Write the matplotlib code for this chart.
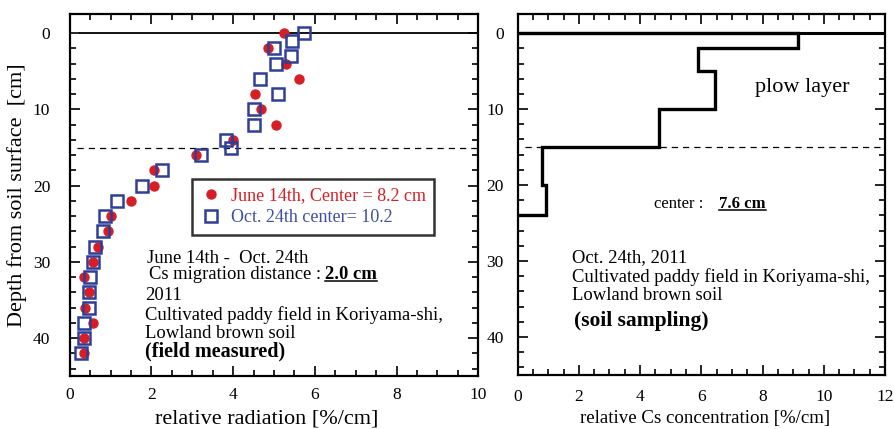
import numpy as np
import matplotlib
matplotlib.use("Agg")
import matplotlib.pyplot as plt
from matplotlib.lines import Line2D

plt.rcParams['font.family'] = ['Liberation Serif', 'DejaVu Serif']

# left panel: relative radiation vs depth
depth_june = [0, 2, 4, 6, 8, 10, 12, 14, 16, 18, 20, 22, 24, 26, 28, 30, 32, 34, 36, 38, 40, 42]
rad_june = [5.24, 4.85, 5.30, 5.61, 4.53, 4.69, 5.04, 3.99, 3.08, 2.06, 2.06, 1.50,
            1.02, 0.94, 0.68, 0.58, 0.36, 0.46, 0.38, 0.56, 0.36, 0.34]
depth_oct = [0, 1, 2, 3, 4, 6, 8, 10, 12, 14, 15, 16, 18, 20, 22, 24, 26, 28, 30, 32, 34, 36, 38, 40, 42]
rad_oct = [5.74, 5.45, 5.00, 5.42, 5.04, 4.65, 5.10, 4.52, 4.51, 3.83, 3.95, 3.22, 2.27,
           1.78, 1.16, 0.86, 0.82, 0.63, 0.56, 0.49, 0.47, 0.47, 0.35, 0.36, 0.27]

# right panel: soil sampling layers
layer_edges = [0, 2, 5, 10, 15, 20, 24]
cs_conc = [9.17, 5.89, 6.46, 4.61, 0.79, 0.94]

red = '#d81e25'
blue = '#2f3f98'

fig = plt.figure(figsize=(8.94, 4.29), dpi=100)
ax1 = fig.add_axes([0.078, 0.123, 0.457, 0.844])
ax2 = fig.add_axes([0.579, 0.126, 0.411, 0.841])


def style_axes(ax, xmax, lsize, xpad, ypad):
    ax.set_ylim(45, -2.5)
    ax.set_xlim(0, xmax)
    ax.set_xticks(np.arange(0, xmax + 1, 2))
    ax.set_xticks(np.arange(0, xmax + 0.1, 0.5), minor=True)
    ax.set_yticks([0, 10, 20, 30, 40])
    ax.set_yticks(np.arange(0, 45, 2), minor=True)
    ax.tick_params(which='both', direction='in', top=True, right=True,
                   width=1.2, labelsize=lsize)
    ax.tick_params(axis='x', which='both', pad=xpad)
    ax.tick_params(axis='y', which='both', pad=ypad)
    ax.tick_params(which='major', length=7)
    ax.tick_params(which='minor', length=4)
    for s in ax.spines.values():
        s.set_linewidth(1.6)


# ---- left panel
style_axes(ax1, 10, 12.5, 8, 14)
ax1.plot([0.25, 10], [0, 0], color='k', lw=1.3)
ax1.plot([0.18, 10], [15, 15], color='k', lw=0.9, ls=(0, (5, 4)))
ax1.plot(rad_june, depth_june, 'o', color=red, ms=6.5, mec=red,
         label='June 14th, Center = 8.2 cm', zorder=3)
ax1.plot(rad_oct, depth_oct, 's', mfc='none', mec=blue, mew=1.8, ms=8.5,
         label='Oct. 24th center= 10.2', zorder=4)
ax1.set_xlabel('relative radiation [%/cm]', fontsize=16, va='center')
ax1.xaxis.set_label_coords(0.483, -0.117)
ax1.set_ylabel('Depth from soil surface  [cm]', fontsize=16, labelpad=4)

leg = ax1.legend(loc='upper left', bbox_to_anchor=(0.30, 0.545), fontsize=13,
                 fancybox=False, edgecolor='k', borderaxespad=0, handletextpad=0.5,
                 handlelength=1.2, borderpad=0.45, labelspacing=0.3)
leg.get_frame().set_linewidth(1.8)
for t, c in zip(leg.get_texts(), [red, '#3f4fa0']):
    t.set_color(c)

fs = 13.4
ax1.text(1.9, 29.5, 'June 14th -  Oct. 24th', fontsize=fs, va='center')
ax1.text(1.95, 31.6, 'Cs migration distance :', fontsize=fs, va='center')
t_mig = ax1.text(6.24, 31.6, '2.0 cm', fontsize=fs, va='center', fontweight='bold')
ax1.text(1.85, 34.4, '2011', fontsize=fs, va='center')
ax1.text(1.85, 37.0, 'Cultivated paddy field in Koriyama-shi,', fontsize=fs, va='center')
ax1.text(1.85, 39.4, 'Lowland brown soil', fontsize=fs, va='center')
ax1.text(1.85, 41.8, '(field measured)', fontsize=14.5, va='center', fontweight='bold')

# ---- right panel
style_axes(ax2, 12, 12.5, 10, 10)
ax2.plot([0, 12], [0, 0], color='k', lw=2.2)
ax2.plot([0.23, 12], [15, 15], color='k', lw=0.9, ls=(0, (5, 4)))
ax2.stairs(cs_conc, layer_edges, orientation='horizontal', baseline=0,
           color='k', lw=2.4)
ax2.set_xlabel('relative Cs concentration [%/cm]', fontsize=13.6, va='center')
ax2.xaxis.set_label_coords(0.51, -0.122)

ax2.text(7.75, 7.1, 'plow layer', fontsize=16, va='center')
ax2.text(4.45, 22.5, 'center :', fontsize=12, va='center')
t_cen = ax2.text(6.58, 22.5, '7.6 cm', fontsize=12, va='center', fontweight='bold')
ax2.text(1.79, 29.5, 'Oct. 24th, 2011', fontsize=fs, va='center')
ax2.text(1.79, 32.1, 'Cultivated paddy field in Koriyama-shi,', fontsize=fs, va='center')
ax2.text(1.79, 34.6, 'Lowland brown soil', fontsize=fs, va='center')
ax2.text(1.85, 37.9, '(soil sampling)', fontsize=15.5, va='center', fontweight='bold')

# underline the bold values
fig.canvas.draw()
inv = fig.transFigure.inverted()
for t in [t_mig, t_cen]:
    bb = t.get_window_extent()
    (x0, y0), (x1, _) = inv.transform([(bb.x0, bb.y0 + 2), (bb.x1, bb.y0 + 2)])
    fig.add_artist(Line2D([x0, x1], [y0, y0], transform=fig.transFigure,
                          color='k', lw=1.1))

fig.savefig('out.png', dpi=100)
